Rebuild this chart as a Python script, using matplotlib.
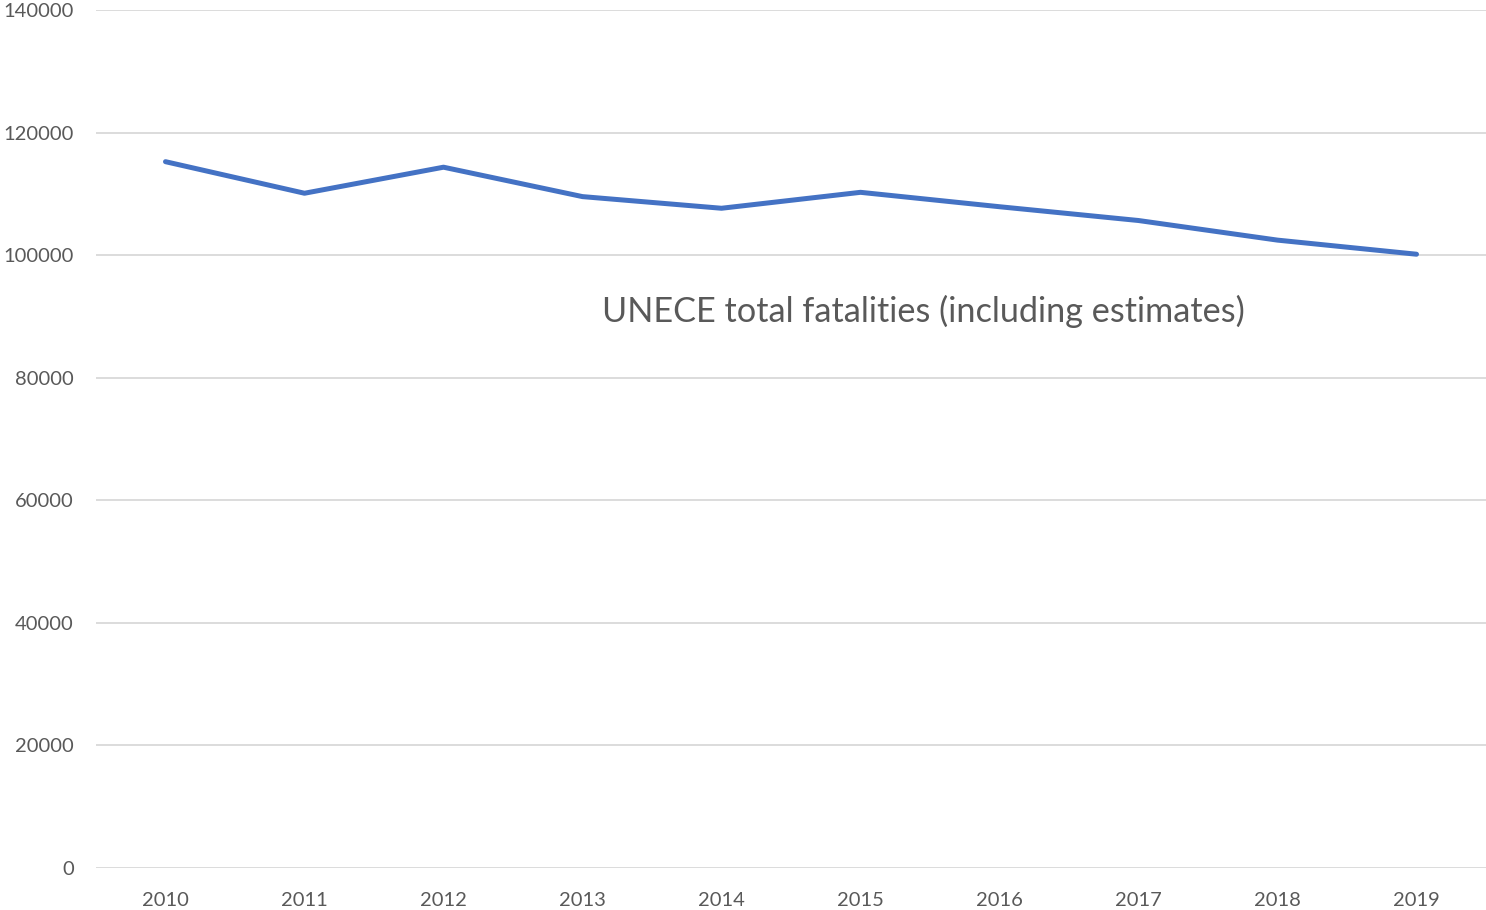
import matplotlib.pyplot as plt
import numpy as np

years = ['2010', '2011', '2012', '2013', '2014', '2015', '2016', '2017', '2018', '2019']
fatalities = [115250, 110100, 114350, 109550, 107650, 110250, 107900, 105650, 102450, 100150]
yticks = [0, 20000, 40000, 60000, 80000, 100000, 120000, 140000]
label = 'UNECE total fatalities (including estimates)'

plt.rcParams['font.family'] = ['Lato', 'DejaVu Sans']

fig = plt.figure(figsize=(14.86, 9.10), dpi=100)
ax = fig.add_axes([0.0646, 0.0462, 0.9354, 0.9428])

x = np.arange(len(years))
ax.plot(x, fatalities, color='#4472C4', linewidth=3.6, solid_capstyle='round', solid_joinstyle='round', zorder=3)

ax.set_xlim(-0.5, len(years) - 0.5)
ax.set_ylim(0, 140000)
ax.set_xticks(x)
ax.set_xticklabels(years)
ax.set_yticks(yticks)
ax.set_yticklabels([str(v) for v in yticks])

ax.grid(axis='y', color='#d9d9d9', linewidth=1.3)
ax.set_axisbelow(True)
for s in ax.spines.values():
    s.set_visible(False)
ax.tick_params(axis='both', length=0, labelsize=14.5, colors='#595959')
ax.tick_params(axis='x', pad=17)
ax.tick_params(axis='y', pad=16)

ax.text(5.45, 90750, label, ha='center', va='center', fontsize=24.7, color='#595959')

fig.savefig('out.png', dpi=100)
